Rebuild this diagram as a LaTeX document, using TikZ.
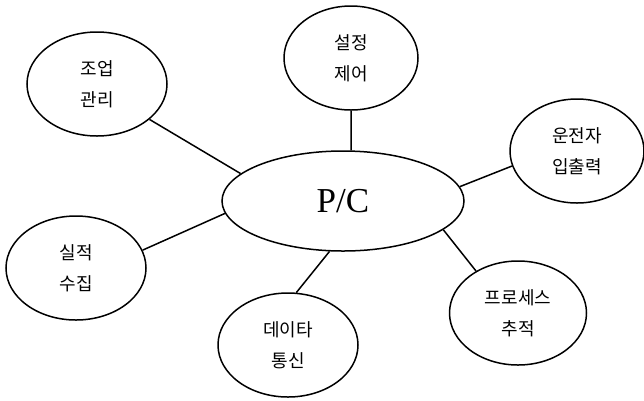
\documentclass[tikz,border=0pt]{standalone}
\usepackage{fontspec}
\setmainfont{Liberation Serif}
\newfontfamily\krfont{Noto Sans CJK KR}
\usetikzlibrary{shapes.geometric}

\begin{document}
\begin{tikzpicture}[x=1pt,y=-1pt,
    unit/.style={ellipse,draw,line width=1.5pt,minimum width=140pt,
      minimum height=104pt,inner sep=0pt,align=center,
      font=\krfont\fontsize{18}{31}\selectfont},
    link/.style={line width=1.5pt}]
  \useasboundingbox (0,0) rectangle (644,400);
  % central controller
  \node[ellipse,draw,line width=1.5pt,minimum width=242pt,minimum height=100pt,
    inner sep=0pt,font=\fontsize{35}{40}\selectfont] (pc) at (343,201) {P/C};
  % satellite units
  \node[unit] (jobmgmt) at (97,84) {조업\\관리};
  \node[unit,minimum width=134pt] (setctrl) at (351,58) {설정\\제어};
  \node[unit,minimum width=134pt] (driverio) at (577,151) {운전자\\입출력};
  \node[unit] (results) at (76,268) {실적\\수집};
  \node[unit] (datacom) at (288,345) {데이타\\통신};
  \node[unit,minimum width=137pt] (proctrack) at (518,313) {프로세스\\추적};
  % links
  \draw[link] (jobmgmt.-34.5) -- (pc.165.6);
  \draw[link] (setctrl.-90) -- (pc.81);
  \draw[link] (driverio.-167.7) -- (pc.7.2);
  \draw[link] (results.15) -- (pc.186.7);
  \draw[link] (datacom.81) -- (pc.255.2);
  \draw[link] (proctrack.135.7) -- (pc.-16.7);
\end{tikzpicture}
\end{document}
